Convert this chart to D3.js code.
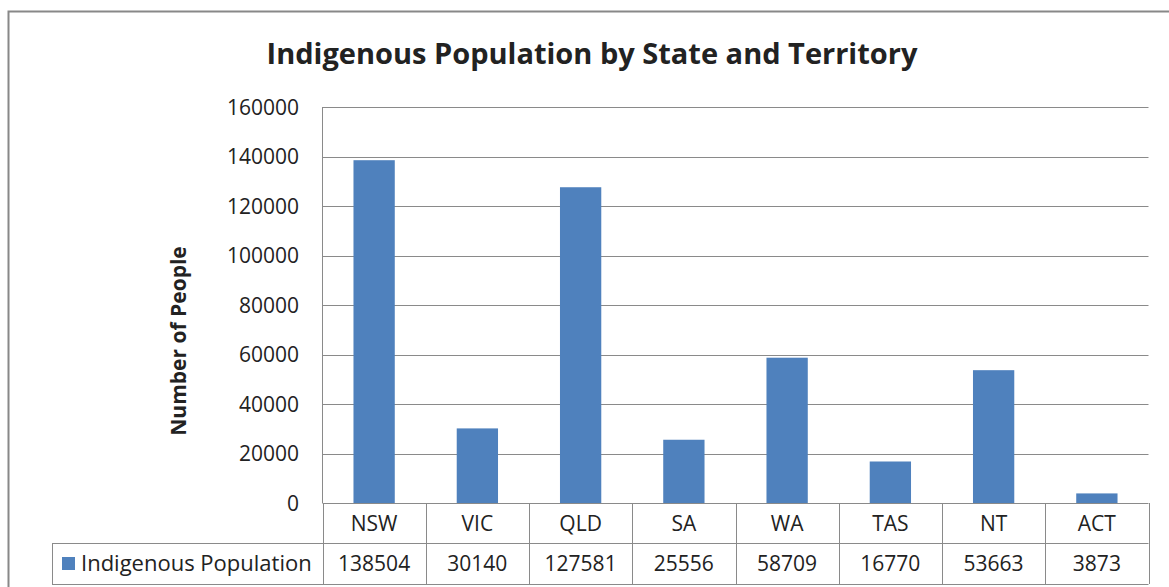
<!DOCTYPE html>
<html>
<head>
<meta charset="utf-8">
<script src="https://cdn.jsdelivr.net/npm/d3@7"></script>
<style>
body { margin: 0; background: #fff; overflow: hidden; }
text { font-family: "Open Sans", Lato, sans-serif; fill: #222; }
</style>
</head>
<body>
<svg></svg>
<script>
var states = ['NSW', 'VIC', 'QLD', 'SA', 'WA', 'TAS', 'NT', 'ACT']
var population = [138504, 30140, 127581, 25556, 58709, 16770, 53663, 3873]
var seriesName = 'Indigenous Population'
var yTicks = [0, 20000, 40000, 60000, 80000, 100000, 120000, 140000, 160000]

var width = 1169, height = 587
var svg = d3.select('svg').attr('width', width).attr('height', height).style('display', 'block')

// chart border
svg.append('rect')
	.attr('x', 8.5).attr('y', 11.5)
	.attr('width', width).attr('height', height)
	.attr('fill', 'none').attr('stroke', '#888').attr('stroke-width', 2)

var plotL = 322.5, plotR = 1148.5, plotT = 107, plotB = 503

var x = d3.scaleBand().domain(states).range([plotL, plotR])
var y = d3.scaleLinear().domain([0, 160000]).range([plotB, plotT])

svg.append('text')
	.attr('x', 592).attr('y', 64)
	.attr('text-anchor', 'middle')
	.style('font-size', '29px').style('font-weight', 'bold')
	.text('Indigenous Population by State and Territory')

// gridlines
svg.append('g').selectAll('line').data(yTicks.slice(1)).enter().append('line')
	.attr('x1', plotL).attr('x2', plotR)
	.attr('y1', function(d) {return Math.round(y(d)) + 0.5})
	.attr('y2', function(d) {return Math.round(y(d)) + 0.5})
	.attr('stroke', '#8a8a8a').attr('stroke-width', 1)

// y axis labels
svg.append('g').selectAll('text').data(yTicks).enter().append('text')
	.attr('x', 299).attr('y', function(d) {return y(d) + 7.5})
	.attr('text-anchor', 'end')
	.style('font-size', '21px')
	.text(function(d) {return d})

svg.append('text')
	.attr('transform', 'translate(186,341) rotate(-90)')
	.attr('text-anchor', 'middle')
	.style('font-size', '21px').style('font-weight', 'bold')
	.text('Number of People')

// bars
var bw = x.bandwidth() * 0.4
svg.append('g').selectAll('rect').data(population).enter().append('rect')
	.attr('x', function(d, i) {return x(states[i]) + (x.bandwidth() - bw) / 2})
	.attr('y', function(d) {return y(d)})
	.attr('width', bw)
	.attr('height', function(d) {return plotB - y(d)})
	.attr('fill', '#4f81bd')

// y axis line
svg.append('line')
	.attr('x1', plotL).attr('x2', plotL).attr('y1', plotT).attr('y2', plotB)
	.attr('stroke', '#8a8a8a')

// data table
var row1 = 543, row2 = 584, legLeft = 52
var grid = svg.append('g').attr('stroke', '#8a8a8a').attr('stroke-width', 1)
grid.append('line').attr('x1', plotL).attr('x2', plotR).attr('y1', plotB + 0.5).attr('y2', plotB + 0.5)
grid.append('line').attr('x1', legLeft).attr('x2', plotR).attr('y1', row1 + 0.5).attr('y2', row1 + 0.5)
grid.append('line').attr('x1', legLeft).attr('x2', plotR).attr('y1', row2 + 0.5).attr('y2', row2 + 0.5)
grid.append('line').attr('x1', legLeft + 0.5).attr('x2', legLeft + 0.5).attr('y1', row1).attr('y2', row2)
grid.selectAll('.vcol').data(states.concat(['end'])).enter().append('line')
	.attr('class', 'vcol')
	.attr('x1', function(d, i) {return Math.round(plotL + i * x.step()) + 0.5})
	.attr('x2', function(d, i) {return Math.round(plotL + i * x.step()) + 0.5})
	.attr('y1', plotB).attr('y2', row2)

svg.append('g').selectAll('text').data(states).enter().append('text')
	.attr('x', function(d) {return x(d) + x.bandwidth() / 2})
	.attr('y', 531)
	.attr('text-anchor', 'middle')
	.style('font-size', '21px')
	.text(function(d) {return d})

svg.append('g').selectAll('text').data(population).enter().append('text')
	.attr('x', function(d, i) {return x(states[i]) + x.bandwidth() / 2})
	.attr('y', 571)
	.attr('text-anchor', 'middle')
	.style('font-size', '21px')
	.text(function(d) {return d})

// legend key in table
svg.append('rect')
	.attr('x', 62).attr('y', 557).attr('width', 13).attr('height', 13)
	.attr('fill', '#4f81bd')
svg.append('text')
	.attr('x', 81).attr('y', 571)
	.style('font-size', '22px')
	.text(seriesName)
</script>
</body>
</html>
